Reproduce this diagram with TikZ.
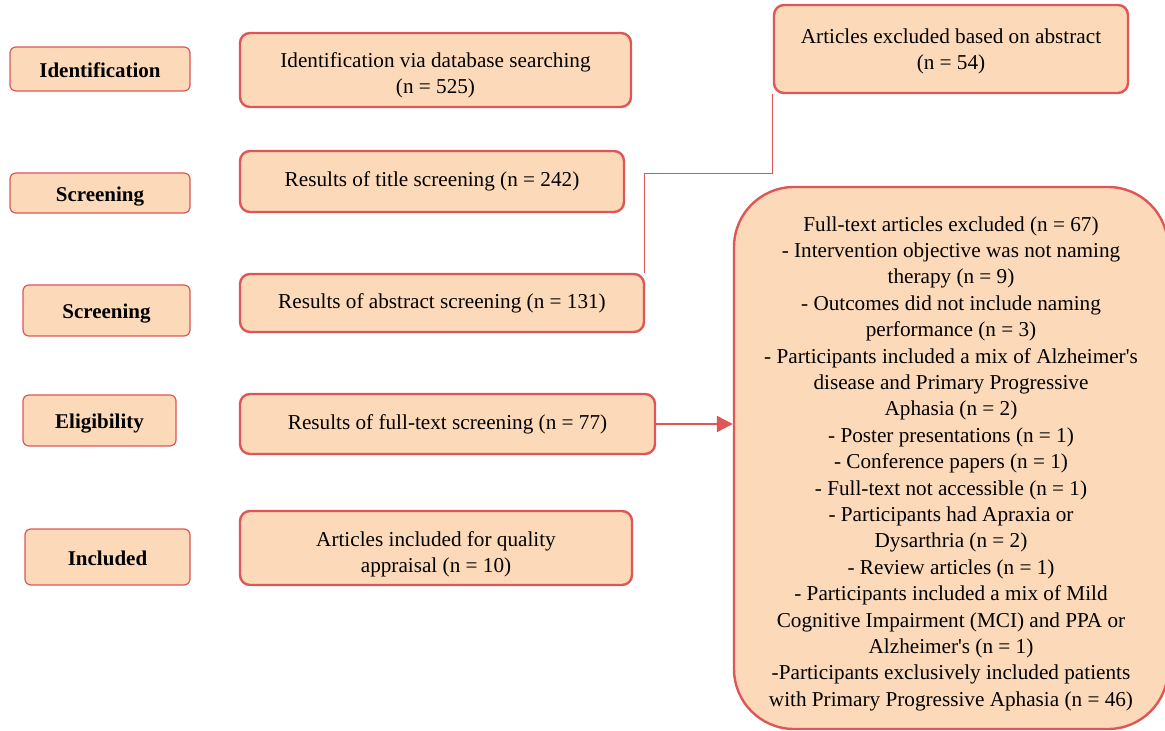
\documentclass[tikz,border=0pt]{standalone}
\usepackage{fontspec}
\setmainfont{Liberation Serif}
\usetikzlibrary{positioning}
\usetikzlibrary{arrows.meta}
\definecolor{boxfill}{RGB}{252,217,185}
\definecolor{boxline}{RGB}{222,86,86}
\newcommand{\topgap}[1]{\rule{0pt}{#1}}
\tikzset{
  stage/.style={draw=boxline, fill=boxfill, line width=0.6pt, rounded corners=3pt,
    inner sep=0pt, text height=9.5pt, text depth=1pt, font=\bfseries\fontsize{10.5}{13}\selectfont},
  result/.style={draw=boxline, fill=boxfill, line width=1.2pt, rounded corners=5pt,
    inner sep=0pt, align=center, font=\fontsize{10.6}{13.2}\selectfont},
  link/.style={draw=boxline, line width=0.4pt},
  flow/.style={draw=boxline, line width=1.2pt, -{Triangle[length=8pt,width=8pt]}}
}

\begin{document}
\begin{tikzpicture}[x=0.5pt,y=-0.5pt]
  \useasboundingbox (0,0) rectangle (1165,731);
  \clip (0,0) rectangle (1165,731);

  % stages on the left
  \node[stage, minimum width=90pt, minimum height=22pt] (ident) at (100,69) {Identification};
  \node[stage, minimum width=90pt, minimum height=20pt] (screenA) at (100,193) {Screening};
  \node[stage, minimum width=83.5pt, minimum height=25.5pt] (screenB) at (106.5,310.5) {Screening};
  \node[stage, minimum width=76.5pt, minimum height=25.5pt] (elig) at (99.5,420.5) {Eligibility};
  \node[stage, minimum width=82.5pt, minimum height=28pt] (incl) at (107.5,557) {Included};

  % results
  \node[result, minimum width=195.5pt, minimum height=37pt] (search) at (435.5,70)
    {\topgap{13pt}Identification via database searching\\(n = 525)};
  \node[result, minimum width=192pt, minimum height=30.5pt] (title) at (432,181.5)
    {Results of title screening (n = 242)};
  \node[result, minimum width=202pt, minimum height=29pt] (abstract) at (442,303)
    {Results of abstract screening (n = 131)};
  \node[result, minimum width=207.5pt, minimum height=30pt] (fulltext) at (447.5,424)
    {Results of full-text screening (n = 77)};
  \node[result, minimum width=196pt, minimum height=37pt] (quality) at (436,548)
    {\topgap{14pt}Articles included for quality\\appraisal (n = 10)};

  % exclusions
  \node[result, minimum width=177pt, minimum height=44pt] (exabs) at (951,49)
    {\topgap{10pt}Articles excluded based on abstract\\(n = 54)};
  \node[result, minimum width=217pt, minimum height=271pt, rounded corners=30pt] (excl) at (951,458)
    {\topgap{13pt}Full-text articles excluded (n = 67)\\
     - Intervention objective was not naming\\
     therapy (n = 9)\\
     - Outcomes did not include naming\\
     performance (n = 3)\\
     - Participants included a mix of Alzheimer\textquotesingle s\\
     disease and Primary Progressive\\
     Aphasia (n = 2)\\
     - Poster presentations (n = 1)\\
     - Conference papers (n = 1)\\
     - Full-text not accessible (n = 1)\\
     - Participants had Apraxia or\\
     Dysarthria (n = 2)\\
     - Review articles (n = 1)\\
     - Participants included a mix of Mild\\
     Cognitive Impairment (MCI) and PPA or\\
     Alzheimer\textquotesingle s (n = 1)\\
     -Participants exclusively included patients\\
     with Primary Progressive Aphasia (n = 46)};

  \draw[link] ([xshift=-0.5pt]abstract.north east) -- ++(0,-99) coordinate (bend) -| (exabs.south west);
  \draw[flow] (fulltext.east) -- (fulltext.east -| excl.west);
\end{tikzpicture}
\end{document}
